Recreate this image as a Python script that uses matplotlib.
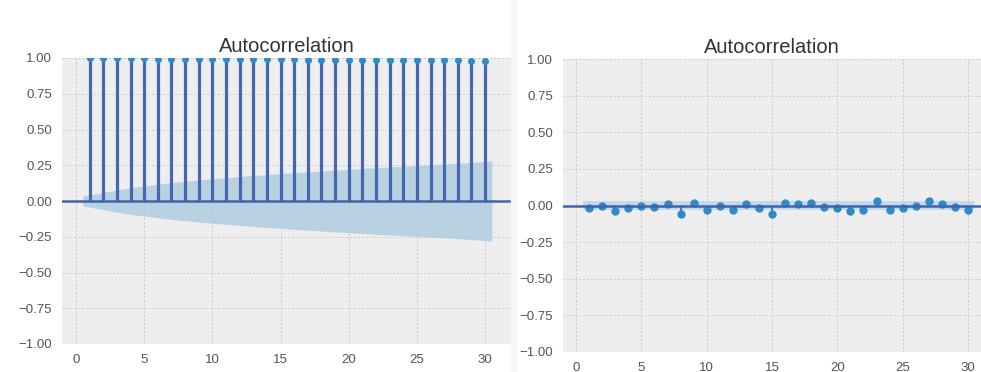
import numpy as np
import matplotlib
matplotlib.use('Agg')
import matplotlib.pyplot as plt

# ACF values (lags 1..30)
lags = list(range(1, 31))
acf_left = [0.999, 0.998, 0.998, 0.997, 0.997, 0.996, 0.996, 0.995, 0.995, 0.994,
            0.994, 0.993, 0.993, 0.992, 0.992, 0.991, 0.989, 0.989, 0.988, 0.988,
            0.987, 0.987, 0.986, 0.986, 0.985, 0.985, 0.984, 0.984, 0.978, 0.977]
conf_left = [0.035, 0.060, 0.078, 0.093, 0.106, 0.117, 0.128, 0.138, 0.147, 0.155,
             0.163, 0.171, 0.178, 0.185, 0.192, 0.198, 0.204, 0.210, 0.216, 0.222,
             0.227, 0.233, 0.238, 0.243, 0.248, 0.253, 0.258, 0.263, 0.270, 0.280]
acf_right = [-0.02, -0.002, -0.04, -0.02, 0.0, -0.01, 0.01, -0.055, 0.02, -0.03,
             0.0, -0.03, 0.012, -0.02, -0.055, 0.014, 0.007, 0.018, -0.01, -0.02,
             -0.04, -0.03, 0.03, -0.03, -0.02, 0.0, 0.028, 0.007, -0.01, -0.03]
conf_right = [0.03] * 30
yticks = [-1.0, -0.75, -0.5, -0.25, 0.0, 0.25, 0.5, 0.75, 1.0]
xticks = [0, 5, 10, 15, 20, 25, 30]

plt.rcParams['font.family'] = ['Liberation Sans', 'DejaVu Sans']

W, H = 981, 372
fig = plt.figure(figsize=(W / 100, H / 100), dpi=100)


def px_axes(x0, y0, x1, y1):
    # pixel box (top-left origin) -> figure axes
    return fig.add_axes([x0 / W, (H - y1) / H, (x1 - x0) / W, (y1 - y0) / H])


def draw_acf(ax, acf, conf, stem_lw, ms, xlim, band_col):
    ax.set_facecolor('#eeeeee')
    for s in ax.spines.values():
        s.set_visible(False)
    ax.grid(True, color='#cbcbcb', linestyle=(0, (2, 2)), linewidth=0.7)
    ax.set_axisbelow(True)
    band_x = [lags[0] - 0.5] + lags[1:-1] + [lags[-1] + 0.5]
    c = np.array(conf)
    ax.fill_between(band_x, -c, c, color=band_col, alpha=0.75, lw=0)
    ax.vlines(lags, 0, acf, color='#4467b0', lw=stem_lw)
    ax.plot(lags, acf, 'o', color='#2f8ac6', ms=ms)
    ax.axhline(0, color='#3f63ae', lw=1.8)
    ax.set_xlim(*xlim)
    ax.set_ylim(-1, 1)
    ax.set_yticks(yticks)
    ax.set_yticklabels(['\u22121.00', '\u22120.75', '\u22120.50', '\u22120.25',
                        '0.00', '0.25', '0.50', '0.75', '1.00'])
    ax.set_xticks(xticks)
    ax.tick_params(length=0, labelsize=9.5, colors='#555555', pad=7)
    ax.set_title('Autocorrelation', fontsize=14.5, color='#333333', pad=4)


ax1 = px_axes(62, 58, 511, 344)
draw_acf(ax1, acf_left, conf_left, 2.3, 4, (-1.03, 31.9), '#a9c8de')

ax2 = px_axes(563, 59, 981, 352)
draw_acf(ax2, acf_right, conf_right, 1.3, 5, (-1.0, 31.0), '#b8d4e8')

# faint shadow between the two screenshots
fig.patches.append(plt.Rectangle((511 / W, 0), 6 / W, 1, transform=fig.transFigure,
                                 color='#f6f6f6', zorder=0))

fig.savefig('out.png', dpi=100)
